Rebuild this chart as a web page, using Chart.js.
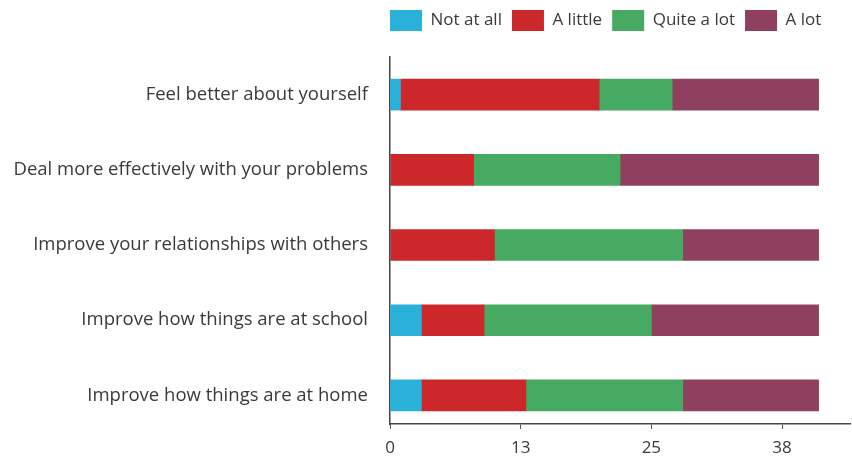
<!DOCTYPE html>
<html>
<head>
<meta charset="utf-8">
<script src="https://cdn.jsdelivr.net/npm/chart.js@4.4.1/dist/chart.umd.min.js"></script>
<style>
  html, body { margin: 0; padding: 0; background: #fff; }
  #wrap { width: 852px; height: 459px; }
</style>
</head>
<body>
<div id="wrap"><canvas id="chart"></canvas></div>
<script>
// categories, top to bottom
const categories = [
  "Feel better about yourself",
  "Deal more effectively with your problems",
  "Improve your relationships with others",
  "Improve how things are at school",
  "Improve how things are at home",
];

// responses per category
const notAtAll = [1, 0, 0, 3, 3];
const aLittle = [19, 8, 10, 6, 10];
const quiteALot = [7, 14, 18, 16, 15];
const aLot = [14, 19, 13, 16, 13];

const xTicks = [0, 12.5, 25, 37.5];

const series = [
  { label: "Not at all", data: notAtAll, color: "#29b1da" },
  { label: "A little", data: aLittle, color: "#cc272b" },
  { label: "Quite a lot", data: quiteALot, color: "#47aa63" },
  { label: "A lot", data: aLot, color: "#8f405f" },
];

const textColor = "#3a3a3a";
const fontFamily = "'Open Sans', sans-serif";

// legend: a bit more room under it, and line it up with the axis
const legendTweak = {
  id: "legendTweak",
  beforeInit(chart) {
    const fit = chart.legend.fit;
    chart.legend.fit = function () {
      fit.call(this);
      this.height += 16;
    };
  },
  afterLayout(chart) {
    chart.legend.left -= 10;
  },
};

let ctx = document.getElementById("chart").getContext("2d");

new Chart(ctx, {
  type: "bar",
  data: {
    datasets: series.map((s) => ({
      label: s.label,
      data: s.data.map((v, i) => ({ x: v, y: i })),
      backgroundColor: s.color,
      borderWidth: 0,
      barThickness: 31,
    })),
  },
  options: {
    indexAxis: "y",
    responsive: true,
    maintainAspectRatio: false,
    animation: false,
    layout: { padding: { left: 8, right: 2, top: 0, bottom: 0 } },
    plugins: {
      tooltip: { enabled: false },
      legend: {
        position: "top",
        align: "start",
        fullSize: false,
        labels: {
          boxWidth: 32,
          boxHeight: 21,
          padding: 10,
          color: textColor,
          font: { family: fontFamily, size: 17 },
        },
      },
    },
    scales: {
      x: {
        type: "linear",
        stacked: true,
        min: 0,
        max: 44,
        afterBuildTicks: (scale) => {
          scale.ticks = xTicks.map((v) => ({ value: v }));
        },
        afterFit: (scale) => {
          scale.height = 35;
        },
        ticks: {
          color: textColor,
          padding: 9,
          font: { family: fontFamily, size: 17 },
          callback: (v) => Math.round(v),
        },
        grid: {
          drawOnChartArea: false,
          drawTicks: true,
          tickLength: 5,
          color: "#555",
        },
        border: { color: "#444", width: 1.5 },
      },
      y: {
        type: "linear",
        stacked: true,
        reverse: true,
        offset: false,
        min: -0.5,
        max: 4.38,
        afterBuildTicks: (scale) => {
          scale.ticks = categories.map((c, i) => ({ value: i }));
        },
        afterFit: (scale) => {
          scale.width = 382;
        },
        ticks: {
          color: textColor,
          padding: 22,
          font: { family: fontFamily, size: 18.5 },
          callback: (v) => categories[v],
        },
        grid: { display: false, drawTicks: false, offset: false },
        border: { color: "#444", width: 1.5 },
      },
    },
  },
  plugins: [legendTweak],
});
</script>
</body>
</html>
